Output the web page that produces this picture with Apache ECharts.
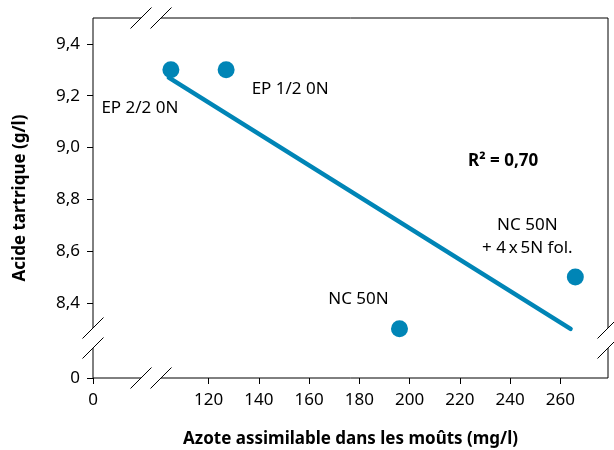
<!DOCTYPE html>
<html>
<head>
<meta charset="utf-8">
<script src="https://cdn.jsdelivr.net/npm/echarts@6/dist/echarts.min.js"></script>
<style>
  html, body { margin: 0; padding: 0; background: #fff; }
  #chart { width: 614px; height: 450px; }
</style>
</head>
<body>
<div id="chart"></div>
<script>
// Treatments and measured values
const treatments = ['EP 2/2 0N', 'EP 1/2 0N', 'NC 50N', 'NC 50N\n+ 4\u2009x\u20095N fol.'];
const azote = [105, 127, 196, 266];          // mg/l
const acide = [9.3, 9.3, 8.3, 8.5];          // g/l

// Fitted trend line end points
const trendX = [104.2, 264.1];
const trendY = [9.27, 8.30];
const r2Text = 'R\u00b2 = 0,70';

// Axis ticks (the axis origin "0" sits past a break)
const xTicks = [120, 140, 160, 180, 200, 220, 240, 260];
const yTicks = [8.4, 8.6, 8.8, 9.0, 9.2, 9.4];
const breakLabel = '0';

// Visible ranges on each side of the breaks
const X_MIN = 74, X_MAX = 279;
const Y_MIN = 8.11, Y_MAX = 9.5;

// Label placement around each point (pixels from the dot centre)
const labelOffsets = [[-31, 38], [64, 19], [-41, -30], [-48, -40]];

const FONT = "'Noto Sans', sans-serif";
const BLUE = '#0085b6';
const G = { left: 93, right: 6, top: 18, bottom: 72 };
const W = 614, H = 450;
const gx0 = G.left, gx1 = W - G.right, gy0 = G.top, gy1 = H - G.bottom;

const chart = echarts.init(document.getElementById('chart'), null, { renderer: 'canvas' });

const pointData = azote.map((x, i) => ({
  value: [x, acide[i]],
  name: treatments[i],
  label: { offset: labelOffsets[i] }
}));

// Broken-axis marks: a small gap with two parallel slashes
function slashPair(cx, cy, vertical) {
  const els = [];
  const d = 10.5, s = 10.5;
  const gap = 10;
  if (vertical) {
    els.push({ type: 'rect', z: 100, shape: { x: cx - 3, y: cy - gap, width: 6, height: gap * 2 }, style: { fill: '#fff' } });
    [-gap, gap].forEach(o => {
      els.push({ type: 'line', z: 101, shape: { x1: cx - d, y1: cy + o + s, x2: cx + d, y2: cy + o - s }, style: { stroke: '#000', lineWidth: 1 } });
    });
  } else {
    els.push({ type: 'rect', z: 100, shape: { x: cx - gap, y: cy - 3, width: gap * 2, height: 6 }, style: { fill: '#fff' } });
    [-gap, gap].forEach(o => {
      els.push({ type: 'line', z: 101, shape: { x1: cx + o - d, y1: cy + s, x2: cx + o + d, y2: cy - s }, style: { stroke: '#000', lineWidth: 1 } });
    });
  }
  return els;
}

const breakX = 151, breakY = 338;
const graphics = [].concat(
  slashPair(breakX, gy0, false),
  slashPair(breakX, gy1, false),
  slashPair(gx0, breakY, true),
  slashPair(gx1, breakY, true),
  [{
    type: 'text', z: 102, left: 468, top: 153,
    style: { text: r2Text, font: "bold 17px " + FONT, fill: '#000' }
  }]
);

const fmtY = v => Math.abs(v - Y_MIN) < 1e-6 ? breakLabel : v.toFixed(1).replace('.', ',');
const fmtX = v => Math.abs(v - X_MIN) < 1e-6 ? breakLabel : String(v);

chart.setOption({
  animation: false,
  backgroundColor: '#fff',
  grid: {
    left: G.left, right: G.right, top: G.top, bottom: G.bottom,
    outerBoundsMode: 'none', containLabel: false,
    show: true, borderColor: '#000', borderWidth: 1, backgroundColor: 'transparent'
  },
  xAxis: {
    type: 'value', min: X_MIN, max: X_MAX,
    name: 'Azote assimilable dans les moûts (mg/l)',
    nameLocation: 'middle', nameGap: 53,
    nameTextStyle: { fontFamily: FONT, fontWeight: 'bold', fontSize: 17, color: '#000' },
    axisLine: { show: false },
    splitLine: { show: false },
    axisTick: { show: true, inside: false, length: 6, customValues: [X_MIN].concat(xTicks), lineStyle: { color: '#000' } },
    axisLabel: { margin: 14, customValues: [X_MIN].concat(xTicks), formatter: fmtX, fontFamily: FONT, fontSize: 17, color: '#000' }
  },
  yAxis: {
    type: 'value', min: Y_MIN, max: Y_MAX,
    name: 'Acide tartrique (g/l)',
    nameLocation: 'middle', nameGap: 64,
    nameTextStyle: { fontFamily: FONT, fontWeight: 'bold', fontSize: 17, color: '#000' },
    axisLine: { show: false },
    splitLine: { show: false },
    axisTick: { show: true, inside: false, length: 6, customValues: [Y_MIN].concat(yTicks), lineStyle: { color: '#000' } },
    axisLabel: { margin: 13, customValues: [Y_MIN].concat(yTicks), formatter: fmtY, fontFamily: FONT, fontSize: 17, color: '#000' }
  },
  series: [
    {
      type: 'line',
      data: trendX.map((x, i) => [x, trendY[i]]),
      symbol: 'none',
      lineStyle: { color: BLUE, width: 4.5, cap: 'round' },
      z: 2
    },
    {
      type: 'scatter',
      data: pointData,
      symbol: 'circle', symbolSize: 17,
      itemStyle: { color: BLUE, opacity: 1 },
      label: {
        show: true, position: 'inside', formatter: p => p.name,
        fontFamily: FONT, fontSize: 17, color: '#000', align: 'center', verticalAlign: 'middle', lineHeight: 23
      },
      z: 3
    }
  ],
  graphic: graphics
});
</script>
</body>
</html>
